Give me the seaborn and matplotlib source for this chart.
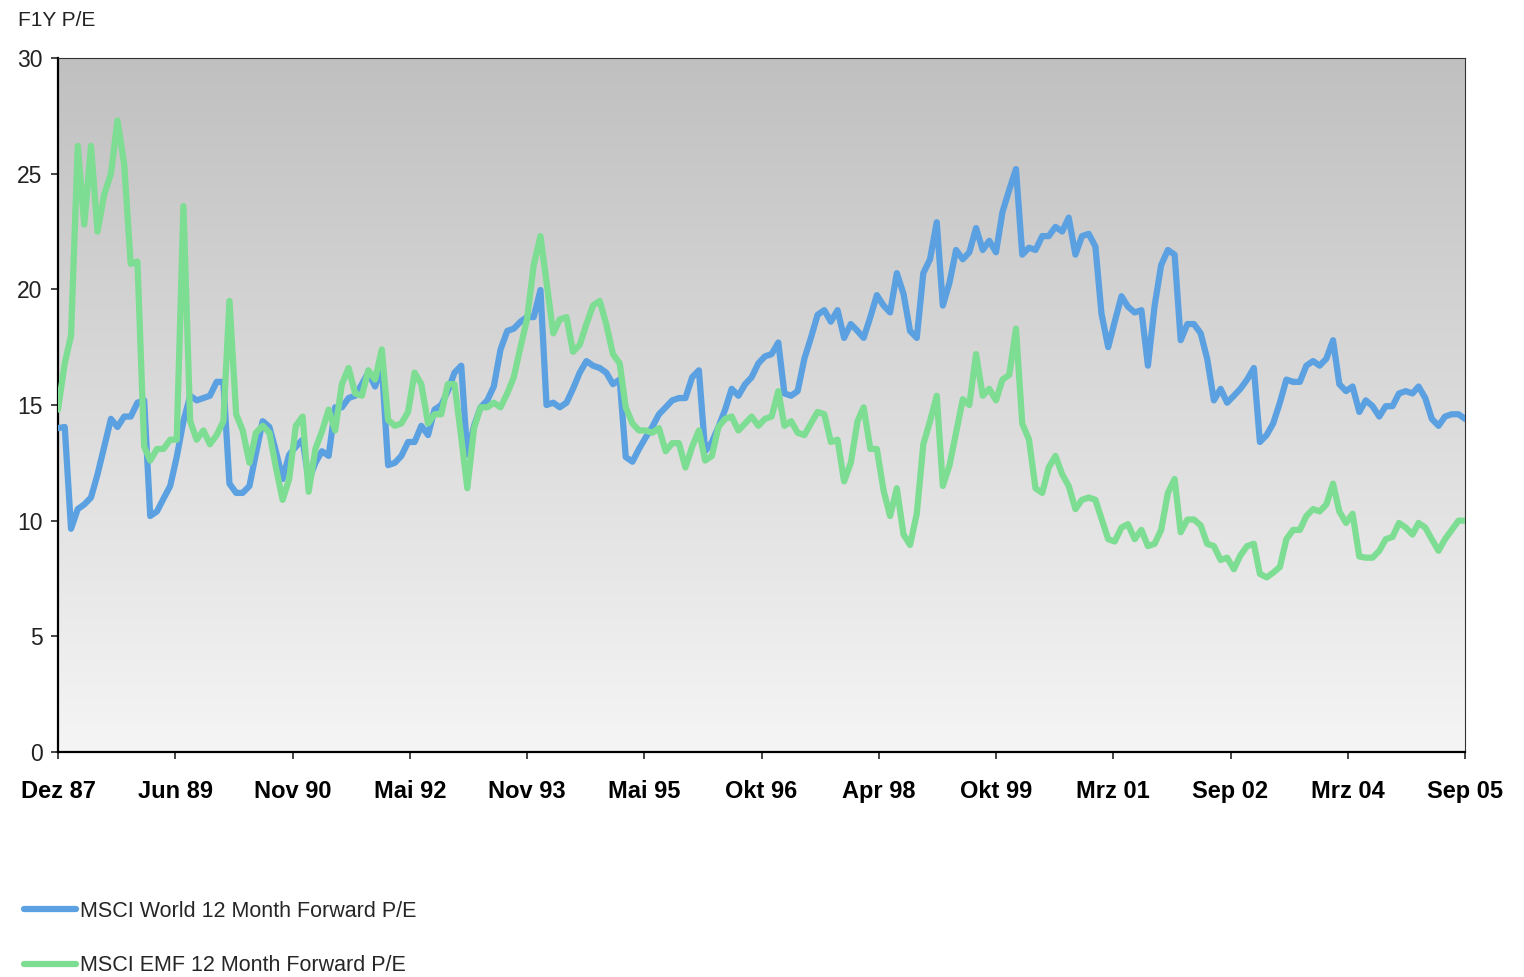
import numpy as np
import pandas as pd
import seaborn as sns
import matplotlib.pyplot as plt
from matplotlib.colors import LinearSegmentedColormap
from matplotlib.lines import Line2D

# monthly values, Dec 87 .. Sep 05
world_pe = [14.0, 14.05, 9.65, 10.5, 10.7, 11.0, 12.0, 13.2, 14.4, 14.05,
            14.5, 14.5, 15.1, 15.2, 10.2, 10.4, 10.95, 11.5, 12.75, 14.3,
            15.4, 15.2, 15.3, 15.4, 16.0, 16.0, 11.6, 11.2, 11.2, 11.5,
            12.9, 14.3, 14.05, 13.0, 11.8, 12.85, 13.2, 13.5, 11.75, 12.5,
            13.0, 12.8, 14.9, 14.9, 15.3, 15.4, 15.9, 16.4, 15.8, 16.7,
            12.4, 12.5, 12.8, 13.4, 13.4, 14.1, 13.7, 14.8, 15.0, 15.6,
            16.4, 16.7, 12.85, 14.1, 14.9, 15.2, 15.8, 17.4, 18.2, 18.3,
            18.6, 18.8, 18.8, 19.97, 15.0, 15.1, 14.9, 15.1, 15.7, 16.4,
            16.9, 16.7, 16.6, 16.4, 15.9, 16.1, 12.75, 12.55, 13.1, 13.6,
            14.05, 14.6, 14.9, 15.2, 15.3, 15.3, 16.2, 16.5, 13.0, 13.4,
            14.05, 14.8, 15.7, 15.4, 15.9, 16.2, 16.8, 17.1, 17.2, 17.7,
            15.5, 15.4, 15.6, 17.0, 17.9, 18.9, 19.1, 18.6, 19.1, 17.9,
            18.5, 18.2, 17.9, 18.8, 19.75, 19.3, 19.0, 20.7, 19.8, 18.2,
            17.9, 20.7, 21.3, 22.9, 19.3, 20.3, 21.7, 21.3, 21.6, 22.65,
            21.7, 22.1, 21.6, 23.35, 24.3, 25.2, 21.5, 21.8, 21.7, 22.3,
            22.3, 22.7, 22.5, 23.1, 21.5, 22.3, 22.4, 21.85, 18.95, 17.5,
            18.6, 19.7, 19.25, 19.0, 19.1, 16.7, 19.3, 21.05, 21.7, 21.5,
            17.8, 18.5, 18.5, 18.1, 17.0, 15.2, 15.7, 15.1, 15.4, 15.7,
            16.1, 16.6, 13.4, 13.7, 14.2, 15.1, 16.1, 16.0, 16.0, 16.7,
            16.9, 16.7, 17.0, 17.8, 15.9, 15.6, 15.8, 14.7, 15.2, 14.95,
            14.5, 14.95, 14.95, 15.5, 15.6, 15.5, 15.8, 15.3, 14.4, 14.1,
            14.5, 14.6, 14.6, 14.4]

emf_pe = [14.8, 16.8, 18.0, 26.2, 22.8, 26.2, 22.5, 24.1, 25.0, 27.3,
          25.4, 21.1, 21.2, 13.2, 12.6, 13.1, 13.1, 13.5, 13.5, 23.6,
          14.3, 13.5, 13.9, 13.3, 13.7, 14.3, 19.5, 14.6, 13.9, 12.5,
          13.8, 14.1, 13.8, 12.3, 10.9, 11.8, 14.1, 14.5, 11.25, 13.1,
          13.85, 14.8, 13.9, 15.9, 16.6, 15.5, 15.4, 16.5, 16.1, 17.4,
          14.35, 14.1, 14.2, 14.7, 16.4, 15.9, 14.2, 14.6, 14.6, 15.9,
          15.9, 13.6, 11.4, 14.0, 14.9, 14.9, 15.1, 14.9, 15.5, 16.2,
          17.5, 18.7, 21.05, 22.3, 20.3, 18.1, 18.7, 18.8, 17.3, 17.6,
          18.5, 19.3, 19.5, 18.5, 17.2, 16.8, 14.9, 14.2, 13.9, 13.9,
          13.8, 14.0, 13.0, 13.35, 13.35, 12.3, 13.2, 13.9, 12.6, 12.8,
          14.05, 14.4, 14.5, 13.9, 14.2, 14.5, 14.1, 14.4, 14.5, 15.6,
          14.1, 14.3, 13.8, 13.7, 14.2, 14.7, 14.6, 13.4, 13.5, 11.7,
          12.5, 14.3, 14.9, 13.1, 13.1, 11.3, 10.2, 11.4, 9.4, 8.95,
          10.3, 13.3, 14.3, 15.4, 11.5, 12.4, 13.8, 15.25, 15.0, 17.2,
          15.4, 15.7, 15.2, 16.1, 16.3, 18.3, 14.2, 13.5, 11.4, 11.2,
          12.3, 12.8, 12.0, 11.5, 10.5, 10.9, 11.0, 10.9, 10.1, 9.2,
          9.1, 9.7, 9.85, 9.2, 9.6, 8.9, 9.0, 9.6, 11.2, 11.8,
          9.5, 10.05, 10.05, 9.8, 9.0, 8.9, 8.3, 8.4, 7.9, 8.5,
          8.9, 9.0, 7.7, 7.55, 7.75, 8.0, 9.2, 9.6, 9.6, 10.2,
          10.5, 10.4, 10.7, 11.6, 10.4, 9.9, 10.3, 8.45, 8.4, 8.4,
          8.7, 9.2, 9.3, 9.9, 9.7, 9.4, 9.9, 9.7, 9.2, 8.7,
          9.2, 9.6, 10.0, 10.0]

tick_labels = ['Dez 87', 'Jun 89', 'Nov 90', 'Mai 92', 'Nov 93', 'Mai 95', 'Okt 96',
               'Apr 98', 'Okt 99', 'Mrz 01', 'Sep 02', 'Mrz 04', 'Sep 05']
series_names = ['MSCI World 12 Month Forward P/E', 'MSCI EMF 12 Month Forward P/E']
colors = ['#5BA1E1', '#7DDD92']

dates = pd.date_range('1987-12-31', periods=len(world_pe), freq='ME')
df = pd.DataFrame({'date': dates, series_names[0]: world_pe, series_names[1]: emf_pe})
long = df.melt(id_vars='date', var_name='series', value_name='pe')

sns.set_style('white')
plt.rcParams['font.family'] = ['Liberation Sans', 'DejaVu Sans']

fig = plt.figure(figsize=(15.24, 9.77), dpi=100)
ax = fig.add_axes([58 / 1524, 1 - 752 / 977, (1465 - 58) / 1524, (752 - 58) / 977])

# grey gradient background of the plot area
bg = LinearSegmentedColormap.from_list('bg', ['#f5f5f5', '#c0c0c0'])
ax.imshow(np.linspace(0, 1, 256).reshape(-1, 1), origin='lower', extent=[0, 1, 0, 1],
          transform=ax.transAxes, cmap=bg, aspect='auto', zorder=0)

sns.lineplot(data=long, x='date', y='pe', hue='series', palette=colors, linewidth=4.5,
             legend=False, ax=ax, solid_joinstyle='round', zorder=3)

ax.set_xlim(dates[0], dates[-1])
ax.set_ylim(0, 30)
ax.set_yticks(range(0, 31, 5))
ticks = pd.date_range(dates[0], dates[-1], periods=len(tick_labels))
ax.set_xticks(ticks)
ax.set_xticklabels(tick_labels, fontweight='bold', fontsize=17, color='black')
ax.tick_params(axis='x', bottom=True, length=5, width=1.2, pad=15, direction='out')
ax.tick_params(axis='y', left=True, length=5, width=1.2, pad=6, labelsize=16.5,
               direction='out', labelcolor='#222222')
ax.set_xlabel('')
ax.set_ylabel('')
for side in ['left', 'bottom']:
    ax.spines[side].set_color('black')
    ax.spines[side].set_linewidth(1.6)
for side in ['top', 'right']:
    ax.spines[side].set_color('#333333')
    ax.spines[side].set_linewidth(0.8)

fig.text(18 / 1524, 1 - 20 / 977, 'F1Y P/E', fontsize=15, va='center', ha='left', color='#222222')

handles = [Line2D([0], [0], color=c, lw=4.5, solid_capstyle='round') for c in colors]
fig.legend(handles, series_names, loc='upper left', bbox_to_anchor=(24 / 1524, 1 - 901 / 977),
           frameon=False, fontsize=15.5, handlelength=2.4, handletextpad=0.2,
           labelspacing=1.55, borderaxespad=0, borderpad=0)

fig.savefig('out.png', dpi=100)
